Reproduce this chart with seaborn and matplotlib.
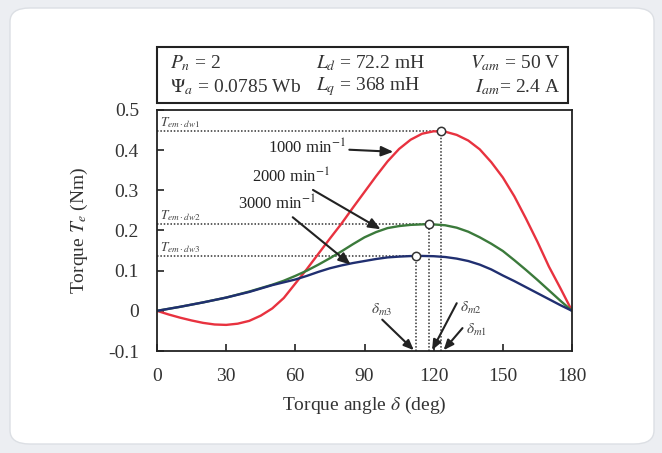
import matplotlib
matplotlib.use("Agg")
import matplotlib.pyplot as plt
import seaborn as sns
import pandas as pd
from matplotlib.patches import FancyBboxPatch, Rectangle

# ---- data ----
red_deg = [0, 5, 10, 15, 20, 25, 30, 35, 40, 45, 50, 55, 60, 65, 70, 75, 80, 85, 90, 95, 100,
           105, 110, 115, 120, 125, 130, 135, 140, 145, 150, 155, 160, 165, 170, 175, 180]
red_val = [0, -0.009, -0.017, -0.024, -0.030, -0.034, -0.035, -0.032, -0.025, -0.012, 0.006,
           0.032, 0.068, 0.104, 0.142, 0.180, 0.217, 0.257, 0.296, 0.335, 0.372, 0.403, 0.426,
           0.441, 0.447, 0.446, 0.438, 0.424, 0.402, 0.370, 0.332, 0.285, 0.230, 0.172, 0.110,
           0.056, 0.0]

green_deg = [0, 10, 20, 30, 40, 50, 55, 60, 65, 70, 75, 80, 85, 90, 95, 100, 105, 110, 118,
             125, 130, 135, 140, 145, 150, 155, 160, 165, 170, 175, 180]
green_val = [0, 0.010, 0.021, 0.033, 0.048, 0.065, 0.075, 0.087, 0.100, 0.115, 0.131, 0.148,
             0.166, 0.183, 0.196, 0.206, 0.211, 0.214, 0.216, 0.213, 0.207, 0.197, 0.183, 0.167,
             0.149, 0.126, 0.102, 0.077, 0.051, 0.025, 0]

blue_deg = [0, 10, 20, 30, 40, 50, 55, 60, 65, 70, 75, 80, 85, 90, 95, 100, 105, 112.5, 120,
            125, 130, 135, 140, 145, 150, 155, 160, 165, 170, 175, 180]
blue_val = [0, 0.010, 0.021, 0.033, 0.047, 0.064, 0.071, 0.078, 0.087, 0.097, 0.106, 0.113,
            0.119, 0.124, 0.129, 0.133, 0.135, 0.137, 0.136, 0.134, 0.130, 0.124, 0.115, 0.103,
            0.088, 0.074, 0.059, 0.044, 0.029, 0.014, 0]

speeds = ["1000", "2000", "3000"]
peak_deg = [123.3, 117.8, 112.5]
peak_val = [0.447, 0.216, 0.137]
peak_labels = [r"$T_{em\cdot dw1}$", r"$T_{em\cdot dw2}$", r"$T_{em\cdot dw3}$"]
delta_labels = [r"$\delta_{m1}$", r"$\delta_{m2}$", r"$\delta_{m3}$"]
xticks = [0, 30, 60, 90, 120, 150, 180]
yticks = [-0.1, 0, 0.1, 0.2, 0.3, 0.4, 0.5]
ytick_labels = ["-0.1", "0", "0.1", "0.2", "0.3", "0.4", "0.5"]

colors = {"1000": "#e8323f", "2000": "#3b7a3b", "3000": "#202f70"}

df = pd.concat([
    pd.DataFrame({"deg": red_deg, "T": red_val, "speed": "1000"}),
    pd.DataFrame({"deg": green_deg, "T": green_val, "speed": "2000"}),
    pd.DataFrame({"deg": blue_deg, "T": blue_val, "speed": "3000"}),
], ignore_index=True)

sns.set_style("white")
plt.rcParams["font.family"] = ["Liberation Serif", "DejaVu Serif"]
plt.rcParams["mathtext.fontset"] = "stix"

W, H = 662, 453
fig = plt.figure(figsize=(W / 100, H / 100), dpi=100)
fig.patch.set_facecolor("#eceef2")

# card background
card = FancyBboxPatch((10 / W, 9 / H), 644 / W, 436 / H,
                      boxstyle="round,pad=0,rounding_size=0.03",
                      transform=fig.transFigure, facecolor="white",
                      edgecolor="#dcdfe4", lw=1.0, zorder=-10)
fig.add_artist(card)

ax = fig.add_axes([157 / W, 1 - 351 / H, 415 / W, 241 / H])
ax.set_zorder(5)
ax.set_facecolor("white")

sns.lineplot(data=df, x="deg", y="T", hue="speed", palette=colors, ax=ax,
             lw=1.7, legend=False, sort=False, estimator=None)

ax.set_xlim(0, 180)
ax.set_ylim(-0.1, 0.5)

# dotted guide lines and peak markers
for pd_, pv, lab in zip(peak_deg, peak_val, peak_labels):
    ax.plot([0, pd_], [pv, pv], ls=(0, (1, 1.2)), color="#333333", lw=1.1, zorder=1)
    ax.plot([pd_, pd_], [-0.1, pv], ls=(0, (1, 1.2)), color="#333333", lw=1.1, zorder=1)
    ax.text(1.5, pv + 0.002, lab, fontsize=9.5, color="#444444", ha="left", va="bottom")
ax.scatter(peak_deg, peak_val, s=36, facecolor="white", edgecolor="#333333",
           linewidths=1.1, zorder=5)

arrowprops = dict(arrowstyle="-|>,head_length=0.6,head_width=0.25", color="#222222", lw=1.5,
                  shrinkA=0, shrinkB=0)
# speed labels with arrows
ax.annotate(r"1000 min$^{-1}$", xy=(102.5, 0.396), xytext=(82, 0.406),
            fontsize=12, ha="right", va="center", color="#222222", arrowprops=arrowprops)
ax.annotate(r"2000 min$^{-1}$", xy=(97, 0.203), xytext=(75, 0.333),
            fontsize=12, ha="right", va="center", color="#222222", arrowprops=arrowprops)
ax.annotate(r"3000 min$^{-1}$", xy=(84, 0.115), xytext=(69, 0.265),
            fontsize=12, ha="right", va="center", color="#222222", arrowprops=arrowprops)

# delta arrows
ax.annotate("", xy=(124.3, -0.098), xytext=(132.5, -0.043), arrowprops=arrowprops)
ax.annotate("", xy=(119.3, -0.098), xytext=(130, 0.019), arrowprops=arrowprops)
ax.annotate("", xy=(111.4, -0.098), xytext=(97.7, -0.022), arrowprops=arrowprops)
ax.text(134, -0.047, delta_labels[0], fontsize=11, color="#444444", ha="left", va="center")
ax.text(131.5, 0.008, delta_labels[1], fontsize=11, color="#444444", ha="left", va="center")
ax.text(97.5, 0.003, delta_labels[2], fontsize=11, color="#444444", ha="center", va="center")

ax.set_xticks(xticks)
ax.set_yticks(yticks)
ax.set_yticklabels(ytick_labels)
ax.tick_params(direction="in", length=5, width=1.2, colors="#222222",
               labelsize=14, labelcolor="#333333", top=False, right=False,
               bottom=True, left=True)
ax.tick_params(axis="x", pad=12)
ax.tick_params(axis="y", pad=13)
for s in ax.spines.values():
    s.set_color("#222222")
    s.set_linewidth(1.3)
ax.set_xlabel(r"Torque angle $\delta$ (deg)", fontsize=14, color="#333333", labelpad=7)
ax.set_ylabel(r"Torque $T_e$ (Nm)", fontsize=14, color="#333333", labelpad=13)

# parameter box
box = Rectangle((157 / W, 1 - 103 / H), 411 / W, 56 / H, transform=fig.transFigure,
                fill=False, edgecolor="#222222", lw=1.5, zorder=6)
fig.add_artist(box)
tc = "#333333"
fs = 14
fig.text(170 / W, 1 - 63 / H, r"$P_n$ = 2", fontsize=fs, color=tc, va="center", ha="left")
fig.text(170 / W, 1 - 87 / H, r"$\mathit{\Psi}_a$ = 0.0785 Wb", fontsize=fs, color=tc, va="center", ha="left")
fig.text(316 / W, 1 - 63 / H, r"$L_d$ = 72.2 mH", fontsize=fs, color=tc, va="center", ha="left")
fig.text(316 / W, 1 - 87 / H, r"$L_q$ = 368 mH", fontsize=fs, color=tc, va="center", ha="left")
fig.text(560 / W, 1 - 63 / H, r"$V_{am}$ = 50 V", fontsize=fs, color=tc, va="center", ha="right")
fig.text(560 / W, 1 - 87 / H, r"$I_{am}$= 2.4 A", fontsize=fs, color=tc, va="center", ha="right")

fig.savefig("out.png", dpi=100, facecolor=fig.get_facecolor())
